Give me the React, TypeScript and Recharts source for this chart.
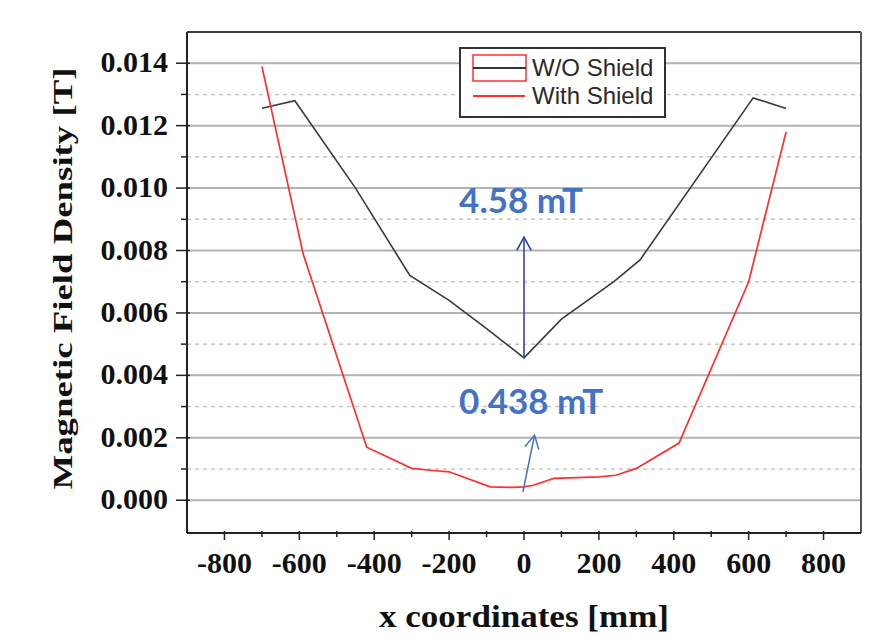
import React from "react";
import {
  LineChart,
  Line,
  XAxis,
  YAxis,
  CartesianGrid,
  ReferenceLine,
  ReferenceDot,
  Legend,
} from "recharts";

// W/O Shield (black)
const woShieldX = [-700, -612, -450, -305, -200, -100, 0, 100, 240, 310, 612, 700];
const woShieldY = [0.01256, 0.0128, 0.01, 0.0072, 0.0064, 0.0055, 0.00456, 0.0058, 0.007, 0.0077, 0.01289, 0.01255];

// With Shield (red)
const withShieldX = [-700, -590, -420, -300, -250, -200, -90, -30, 0, 25, 80, 200, 245, 300, 414, 600, 700];
const withShieldY = [0.0139, 0.0079, 0.0017, 0.00102, 0.00096, 0.00091, 0.00043, 0.00041, 0.00043, 0.00048, 0.0007, 0.00075, 0.0008, 0.00102, 0.00183, 0.007, 0.0118];

const xMajor = [-800, -600, -400, -200, 0, 200, 400, 600, 800];
const xMinor = [-700, -500, -300, -100, 100, 300, 500, 700];
const yMajor = [0, 0.002, 0.004, 0.006, 0.008, 0.01, 0.012, 0.014];
const yMinor = [0.001, 0.003, 0.005, 0.007, 0.009, 0.011, 0.013];

const xDomain = [-900, 900];
const yDomain = [-0.00105, 0.015];

// annotation arrows [start, tip] and labels
const bigArrow = [
  { x: 0, y: 0.00456 },
  { x: 0, y: 0.00843 },
];
const smallArrow = [
  { x: -3, y: 0.00027 },
  { x: 28, y: 0.00208 },
];
const bigNote = { x: -8, y: 0.0092, text: "4.58 mT" };
const smallNote = { x: 19, y: 0.00275, text: "0.438 mT" };

const woData = woShieldX.map((x, i) => ({ x, y: woShieldY[i] }));
const withData = withShieldX.map((x, i) => ({ x, y: withShieldY[i] }));

const serif = "'Liberation Serif', 'Times New Roman', serif";

function XTick(props: any) {
  const { x, y, payload } = props;
  const major = xMajor.includes(payload.value);
  return (
    <g>
      <line x1={x} x2={x} y1={y - 2} y2={y + (major ? 7 : 4)} stroke="#222" strokeWidth={1.5} />
      {major && (
        <text x={x} y={y + 40} textAnchor="middle" fontFamily={serif} fontWeight="bold" fontSize={30} fill="#111">
          {payload.value}
        </text>
      )}
    </g>
  );
}

function YTick(props: any) {
  const { x, y, payload } = props;
  const major = yMajor.includes(payload.value);
  return (
    <g>
      <line x1={x - (major ? 11 : 6)} x2={x + (major ? 3 : 0)} y1={y} y2={y} stroke="#222" strokeWidth={1.5} />
      {major && (
        <text x={x - 19} y={y + 9} textAnchor="end" fontFamily={serif} fontWeight="bold" fontSize={30} fill="#111">
          {payload.value.toFixed(3)}
        </text>
      )}
    </g>
  );
}

function XTitle(props: any) {
  const vb = props.viewBox;
  return (
    <text
      x={vb.x + vb.width / 2}
      y={vb.y + 94}
      textAnchor="middle"
      fontFamily={serif}
      fontWeight="bold"
      fontSize={31}
      textLength={290}
      lengthAdjust="spacingAndGlyphs"
      fill="#111"
    >
      x coordinates [mm]
    </text>
  );
}

function YTitle(props: any) {
  const vb = props.viewBox;
  const cx = vb.x + 72;
  const cy = vb.y + vb.height / 2 - 4;
  return (
    <text
      x={cx}
      y={cy}
      transform={`rotate(-90, ${cx}, ${cy})`}
      textAnchor="middle"
      fontFamily={serif}
      fontWeight="bold"
      fontSize={28}
      textLength={422}
      lengthAdjust="spacingAndGlyphs"
      fill="#111"
    >
      Magnetic Field Density [T]
    </text>
  );
}

function GridLine(props: any) {
  const { x1, x2, y1, y2, index } = props;
  const total = yMajor.length + yMinor.length;
  if (index >= total) return <g />;
  if (index < yMajor.length) {
    return <line x1={x1} x2={x2} y1={y1} y2={y2} stroke="#b3b3b3" strokeWidth={2} />;
  }
  return <line x1={x1} x2={x2} y1={y1} y2={y2} stroke="#c6c6c6" strokeWidth={1.5} strokeDasharray="4 4" />;
}

function Arrow(props: any) {
  const { x1, y1, x2, y2, stroke } = props;
  const ang = Math.atan2(y2 - y1, x2 - x1);
  const len = 15;
  const spread = 0.5;
  const ax = x2 - len * Math.cos(ang - spread);
  const ay = y2 - len * Math.sin(ang - spread);
  const bx = x2 - len * Math.cos(ang + spread);
  const by = y2 - len * Math.sin(ang + spread);
  return (
    <g>
      <line x1={x1} y1={y1} x2={x2} y2={y2} stroke={stroke} strokeWidth={1.6} />
      <polyline points={`${ax},${ay} ${x2},${y2} ${bx},${by}`} fill="none" stroke={stroke} strokeWidth={1.6} />
    </g>
  );
}

function Note(props: any) {
  const vb = props.viewBox;
  return (
    <text
      x={vb.x + vb.width / 2}
      y={vb.y + vb.height / 2}
      textAnchor="middle"
      fontFamily="Lato, 'Open Sans', sans-serif"
      fontWeight="bold"
      fontSize={35}
      fill="#4472c4"
    >
      {props.value}
    </text>
  );
}

function LegendBox() {
  return (
    <svg width={207} height={71} style={{ display: "block" }}>
      <rect x={1} y={1} width={205} height={69} fill="#fff" stroke="#333" strokeWidth={2} />
      <rect x={14} y={8} width={53} height={26} fill="none" stroke="#ff3030" strokeWidth={1.5} />
      <line x1={14} x2={67} y1={21} y2={21} stroke="#333" strokeWidth={2} />
      <text x={73} y={29} fontFamily="'Liberation Sans', Arial, sans-serif" fontSize={24} fill="#2a2a2a">
        W/O Shield
      </text>
      <line x1={14} x2={66} y1={49} y2={49} stroke="#ff3030" strokeWidth={2} />
      <text x={73} y={57} fontFamily="'Liberation Sans', Arial, sans-serif" fontSize={24} fill="#2a2a2a">
        With Shield
      </text>
    </svg>
  );
}

export default function App() {
  return (
    <div style={{ position: "absolute", left: 0, top: 0, width: 895, height: 644, background: "#fff" }}>
      <LineChart width={895} height={644} margin={{ top: 32, right: 34, left: 0, bottom: 0 }}>
        <CartesianGrid vertical={false} horizontal={(p: any) => <GridLine {...p} />} />
        <XAxis
          type="number"
          dataKey="x"
          domain={xDomain}
          ticks={[...xMajor, ...xMinor]}
          interval={0}
          allowDataOverflow
          height={111}
          tickSize={0}
          tickMargin={0}
          tickLine={false}
          tick={(p: any) => <XTick {...p} />}
          axisLine={{ stroke: "#222", strokeWidth: 2 }}
          label={{ content: (p: any) => <XTitle {...p} /> }}
        />
        <YAxis
          type="number"
          domain={yDomain}
          ticks={[...yMajor, ...yMinor]}
          interval={0}
          allowDataOverflow
          width={187}
          tickSize={0}
          tickMargin={0}
          tickLine={false}
          tick={(p: any) => <YTick {...p} />}
          axisLine={{ stroke: "#222", strokeWidth: 2 }}
          label={{ content: (p: any) => <YTitle {...p} /> }}
        />
        <ReferenceLine y={yDomain[1]} stroke="#3a3a3a" strokeWidth={2} ifOverflow="visible" />
        <ReferenceLine x={xDomain[1]} stroke="#555" strokeWidth={2} ifOverflow="visible" />
        <Line
          data={woData}
          dataKey="y"
          name="W/O Shield"
          type="linear"
          stroke="#3a3a3a"
          strokeWidth={1.6}
          dot={false}
          isAnimationActive={false}
        />
        <Line
          data={withData}
          dataKey="y"
          name="With Shield"
          type="linear"
          stroke="#ff2d2d"
          strokeWidth={1.7}
          dot={false}
          isAnimationActive={false}
        />
        <ReferenceLine
          segment={bigArrow}
          stroke="#2f45b0"
          ifOverflow="visible"
          shape={(p: any) => <Arrow {...p} />}
        />
        <ReferenceLine
          segment={smallArrow}
          stroke="#4a74c8"
          ifOverflow="visible"
          shape={(p: any) => <Arrow {...p} />}
        />
        <ReferenceDot
          x={bigNote.x}
          y={bigNote.y}
          r={0}
          fill="none"
          stroke="none"
          ifOverflow="visible"
          label={{ value: bigNote.text, content: (p: any) => <Note {...p} /> }}
        />
        <ReferenceDot
          x={smallNote.x}
          y={smallNote.y}
          r={0}
          fill="none"
          stroke="none"
          ifOverflow="visible"
          label={{ value: smallNote.text, content: (p: any) => <Note {...p} /> }}
        />
        <Legend
          layout="vertical"
          align="center"
          verticalAlign="middle"
          wrapperStyle={{ left: 459, top: 47, width: 207, height: 71 }}
          content={() => <LegendBox />}
        />
      </LineChart>
    </div>
  );
}
